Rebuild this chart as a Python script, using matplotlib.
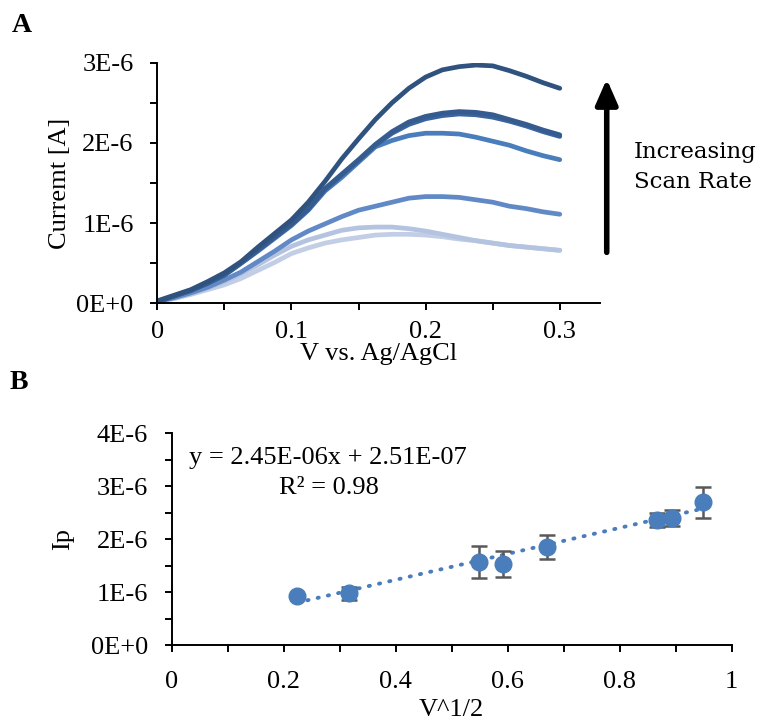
import numpy as np
import matplotlib.pyplot as plt
from matplotlib.ticker import MultipleLocator, FuncFormatter

# Panel A: current (x1E-6 A) vs potential, one curve per scan rate
v = [0, 0.0125, 0.025, 0.0375, 0.05, 0.0625, 0.075, 0.0875, 0.1, 0.1125,
     0.125, 0.1375, 0.15, 0.1625, 0.175, 0.1875, 0.2, 0.2125, 0.225,
     0.2375, 0.25, 0.2625, 0.275, 0.2875, 0.3]

i_c1 = [0.02, 0.06, 0.11, 0.17, 0.23, 0.31, 0.41, 0.51, 0.62, 0.69, 0.75,
        0.79, 0.82, 0.85, 0.86, 0.86, 0.85, 0.83, 0.80, 0.78, 0.75, 0.72,
        0.70, 0.68, 0.66]
i_c2 = [0.02, 0.06, 0.12, 0.19, 0.27, 0.37, 0.48, 0.60, 0.71, 0.79, 0.85,
        0.91, 0.94, 0.95, 0.95, 0.93, 0.90, 0.86, 0.82, 0.78, 0.75, 0.72,
        0.70, 0.68, 0.66]
i_c3 = [0.02, 0.07, 0.13, 0.20, 0.29, 0.39, 0.52, 0.65, 0.79, 0.90, 0.99,
        1.08, 1.16, 1.21, 1.26, 1.31, 1.33, 1.33, 1.32, 1.29, 1.26, 1.21,
        1.18, 1.14, 1.11]
i_c4 = [0.02, 0.09, 0.16, 0.25, 0.35, 0.50, 0.65, 0.81, 0.97, 1.16, 1.40,
        1.57, 1.76, 1.95, 2.03, 2.09, 2.12, 2.12, 2.11, 2.07, 2.02, 1.97,
        1.90, 1.84, 1.79]
i_c5 = [0.02, 0.09, 0.16, 0.25, 0.35, 0.50, 0.66, 0.82, 0.98, 1.17, 1.42,
        1.60, 1.78, 1.97, 2.12, 2.23, 2.30, 2.34, 2.36, 2.35, 2.32, 2.27,
        2.21, 2.14, 2.08]
i_c6 = [0.02, 0.09, 0.16, 0.25, 0.36, 0.51, 0.67, 0.83, 0.99, 1.18, 1.43,
        1.61, 1.79, 1.98, 2.14, 2.26, 2.33, 2.37, 2.39, 2.38, 2.35, 2.29,
        2.23, 2.16, 2.10]
i_c7 = [0.03, 0.10, 0.17, 0.27, 0.38, 0.52, 0.70, 0.87, 1.04, 1.26, 1.52,
        1.80, 2.05, 2.29, 2.50, 2.68, 2.82, 2.91, 2.95, 2.97, 2.96, 2.90,
        2.83, 2.75, 2.68]

# Panel B: peak current vs sqrt(scan rate)
sqrt_v = [0.224, 0.316, 0.548, 0.592, 0.671, 0.866, 0.894, 0.949]
ip = [0.925, 0.975, 1.57, 1.53, 1.855, 2.36, 2.39, 2.69]
ip_err = [0.0, 0.125, 0.30, 0.245, 0.23, 0.13, 0.15, 0.29]
slope = 2.45
intercept = 0.251

plt.rcParams["font.family"] = ["Liberation Serif", "DejaVu Serif"]
plt.rcParams["font.size"] = 19

fig = plt.figure(figsize=(7.67, 7.25), dpi=100)
axA = fig.add_axes([0.2051, 0.5817, 0.5772, 0.3319])
axB = fig.add_axes([0.2239, 0.1103, 0.7301, 0.2924])

def sci(val, pos):
    if abs(val) < 1e-9:
        return "0E+0"
    return "%dE-6" % round(val)

########################################################
# Panel A
curves = [i_c1, i_c2, i_c3, i_c4, i_c5, i_c6, i_c7]
colors = ["#c2cee5", "#b4c4e0", "#6189c6", "#4a7dbb", "#3a659e", "#365c8f", "#2f527f"]
for y, c in zip(curves, colors):
    axA.plot(v, y, color=c, lw=3.4, solid_capstyle="round", solid_joinstyle="round")

axA.set_xlim(0, 0.33)
axA.set_ylim(0, 3)
axA.xaxis.set_major_locator(MultipleLocator(0.1))
axA.xaxis.set_minor_locator(MultipleLocator(0.05))
axA.yaxis.set_major_locator(MultipleLocator(1))
axA.yaxis.set_minor_locator(MultipleLocator(0.5))
axA.xaxis.set_major_formatter(FuncFormatter(lambda x, p: "0" if x == 0 else "%.1f" % x))
axA.yaxis.set_major_formatter(FuncFormatter(sci))
axA.set_xlabel("V vs. Ag/AgCl", labelpad=0)
axA.set_ylabel("Curremt [A]", labelpad=4)
axA.annotate("", xy=(0.335, 2.83), xytext=(0.335, 0.6), xycoords="data",
             arrowprops=dict(arrowstyle="-|>,head_length=0.8,head_width=0.35",
                             lw=4, color="black"), annotation_clip=False)
axA.text(0.355, 1.70, "Increasing\nScan Rate", ha="left", va="center",
         fontsize=16.5, family=["DejaVu Serif"], linespacing=1.5)

########################################################
# Panel B
fit_x = np.array([min(sqrt_v), max(sqrt_v)])
axB.plot(fit_x, slope * fit_x + intercept, color="#4a7dbb", lw=2.8,
         linestyle=(0, (0.3, 2.4)), dash_capstyle="round", zorder=2)
axB.errorbar(sqrt_v, ip, yerr=ip_err, fmt="none", ecolor="#595959",
             elinewidth=1.8, capsize=6, capthick=1.8, zorder=3)
axB.plot(sqrt_v, ip, "o", color="#4a7dbb", markersize=12, zorder=4)

axB.set_xlim(0, 1)
axB.set_ylim(0, 4)
axB.xaxis.set_major_locator(MultipleLocator(0.2))
axB.xaxis.set_minor_locator(MultipleLocator(0.1))
axB.yaxis.set_major_locator(MultipleLocator(1))
axB.yaxis.set_minor_locator(MultipleLocator(0.5))
axB.xaxis.set_major_formatter(FuncFormatter(lambda x, p: "%g" % round(x, 1)))
axB.yaxis.set_major_formatter(FuncFormatter(sci))
axB.set_xlabel("V^1/2", labelpad=4)
axB.set_ylabel("Ip", labelpad=12)
axB.text(0.03, 3.52, "y = 2.45E-06x + 2.51E-07", ha="left", va="center")
axB.text(0.28, 2.96, "R² = 0.98", ha="center", va="center")

for ax in (axA, axB):
    for s in ("top", "right"):
        ax.spines[s].set_visible(False)
    for s in ("left", "bottom"):
        ax.spines[s].set_linewidth(1.4)
    ax.tick_params(which="both", direction="out", width=1.4, length=5)
    ax.tick_params(axis="y", which="major", pad=12)
axA.tick_params(axis="x", which="major", pad=8)
axB.tick_params(axis="x", which="major", pad=14)

fig.text(0.015, 0.965, "A", fontsize=20, fontweight="bold", va="center")
fig.text(0.013, 0.472, "B", fontsize=20, fontweight="bold", va="center")

fig.savefig("out.png", dpi=100)
